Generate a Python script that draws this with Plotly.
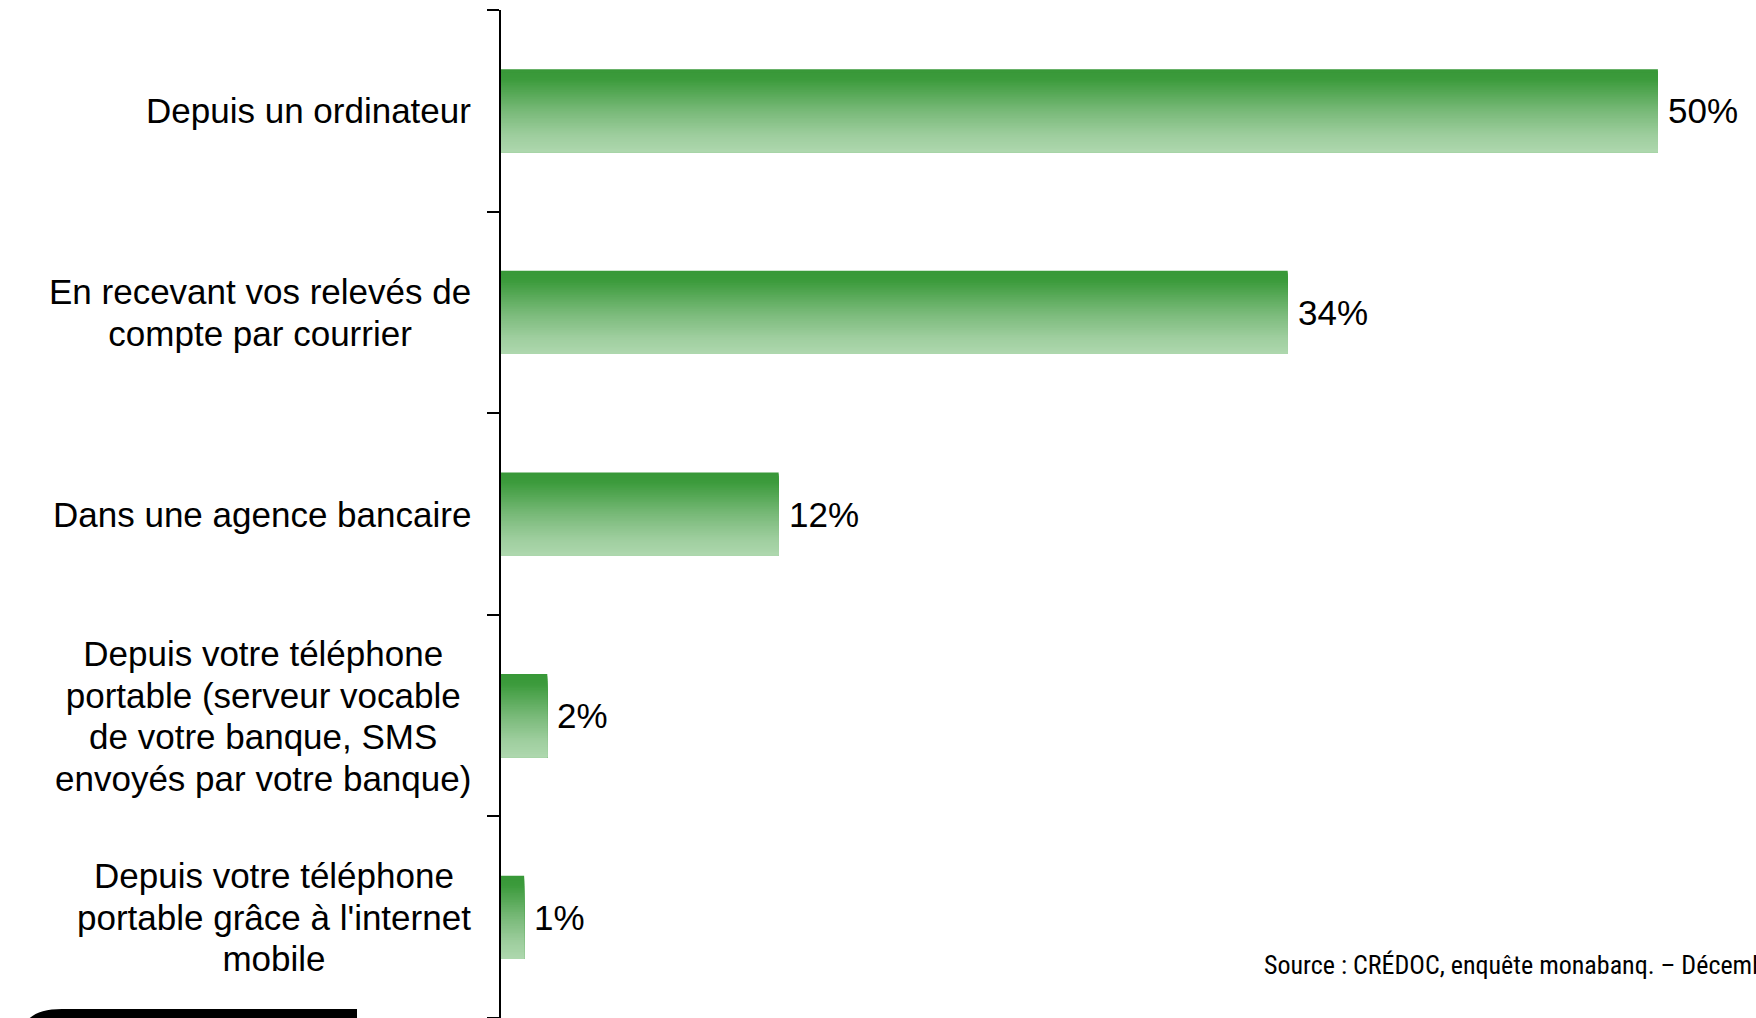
import plotly.graph_objects as go

# Survey data: how respondents check their bank accounts
categories = [
    "Depuis un ordinateur",
    "En recevant vos relevés de<br>compte par courrier",
    "Dans une agence bancaire",
    "Depuis votre téléphone<br>portable (serveur vocable<br>de votre banque, SMS<br>envoyés par votre banque)",
    "Depuis votre téléphone<br>portable grâce à l'internet<br>mobile",
]
values = [50, 34, 12, 2, 1]
value_labels = ["50%", "34%", "12%", "2%", "1%"]
source_text = "Source : CRÉDOC, enquête monabanq. – Décembre"

W, H = 1756, 1018
L, T = 501, 10
plot_w, plot_h = W - L, H - T
x_max = 54.24
bar_w = 0.412
FONT = "Arial, Liberation Sans, sans-serif"
glyph_size = 35
# base size sets the line pitch of multi-line labels (1.3 x base)
base_size = 32

# vertical gradient (top dark green -> bottom pale green)
stops = [
    (0.00, (56, 152, 56)),
    (0.12, (60, 155, 60)),
    (0.50, (120, 185, 120)),
    (0.80, (158, 206, 158)),
    (1.00, (174, 216, 174)),
]


def grad(t):
    for (t0, c0), (t1, c1) in zip(stops[:-1], stops[1:]):
        if t <= t1:
            f = (t - t0) / (t1 - t0) if t1 > t0 else 0
            return "rgb(%d,%d,%d)" % tuple(round(a + (b - a) * f) for a, b in zip(c0, c1))
    return "rgb(%d,%d,%d)" % stops[-1][1]


ids = list(range(len(categories)))
n_strips = 48
dw = bar_w / n_strips

# each strip runs from its own offset down to the bar's lower edge,
# so later (lighter) strips cover the lower part without seams
fig = go.Figure()
for i in range(n_strips):
    off = -bar_w / 2 + i * dw
    fig.add_trace(go.Bar(
        x=values, y=ids, orientation="h",
        width=bar_w / 2 - off, offset=off,
        marker=dict(color=grad((i + 0.5) / n_strips), line=dict(width=0)),
        hoverinfo="skip", showlegend=False,
    ))


def big(txt):
    return "<br>".join('<span style="font-size:%dpx">%s</span>' % (glyph_size, s)
                       for s in txt.split("<br>"))


annotations = []
for k, (cat, v, lab) in enumerate(zip(categories, values, value_labels)):
    annotations.append(dict(
        x=0, xref="paper", xshift=-28, y=k, yref="y",
        text=big(cat), showarrow=False, xanchor="right", yanchor="middle", align="center",
        font=dict(family=FONT, size=base_size, color="#000000"),
    ))
    annotations.append(dict(
        x=v, xref="x", xshift=8, y=k, yref="y",
        text=lab, showarrow=False, xanchor="left", yanchor="middle",
        font=dict(family=FONT, size=glyph_size, color="#000000"),
    ))

annotations.append(dict(
    x=(1262 - L) / plot_w, xref="paper", y=(H - 965) / plot_h, yref="paper",
    text=source_text, showarrow=False, xanchor="left", yanchor="middle",
    font=dict(family="Liberation Sans Narrow, Arial Narrow, Roboto Condensed, sans-serif",
              size=26, color="#000000"),
))


def px(x):
    return (x - L) / plot_w


def py(y):
    return (H - y) / plot_h


# black rounded tab at the bottom-left corner
path = "M %f,%f Q %f,%f %f,%f L %f,%f L %f,%f Z" % (
    px(21), py(1040), px(21), py(1009), px(62), py(1009),
    px(357), py(1009), px(357), py(1040),
)

fig.update_layout(
    width=W, height=H,
    margin=dict(l=L, r=0, t=T, b=0, pad=0),
    paper_bgcolor="white", plot_bgcolor="white",
    barmode="overlay",
    xaxis=dict(range=[0, x_max], visible=False, fixedrange=True),
    yaxis=dict(
        type="category", range=[len(categories) - 0.5, -0.5],
        tickmode="array", tickvals=ids, ticktext=[""] * len(ids),
        tickson="boundaries", ticks="outside", ticklen=12, tickwidth=2, tickcolor="#000000",
        showline=True, linecolor="#000000", linewidth=2,
        showgrid=False, zeroline=False, showticklabels=False,
    ),
    annotations=annotations,
    shapes=[dict(type="path", path=path, xref="paper", yref="paper",
                 fillcolor="#000000", line=dict(width=0), layer="above")],
)

fig.write_html("out.html")
